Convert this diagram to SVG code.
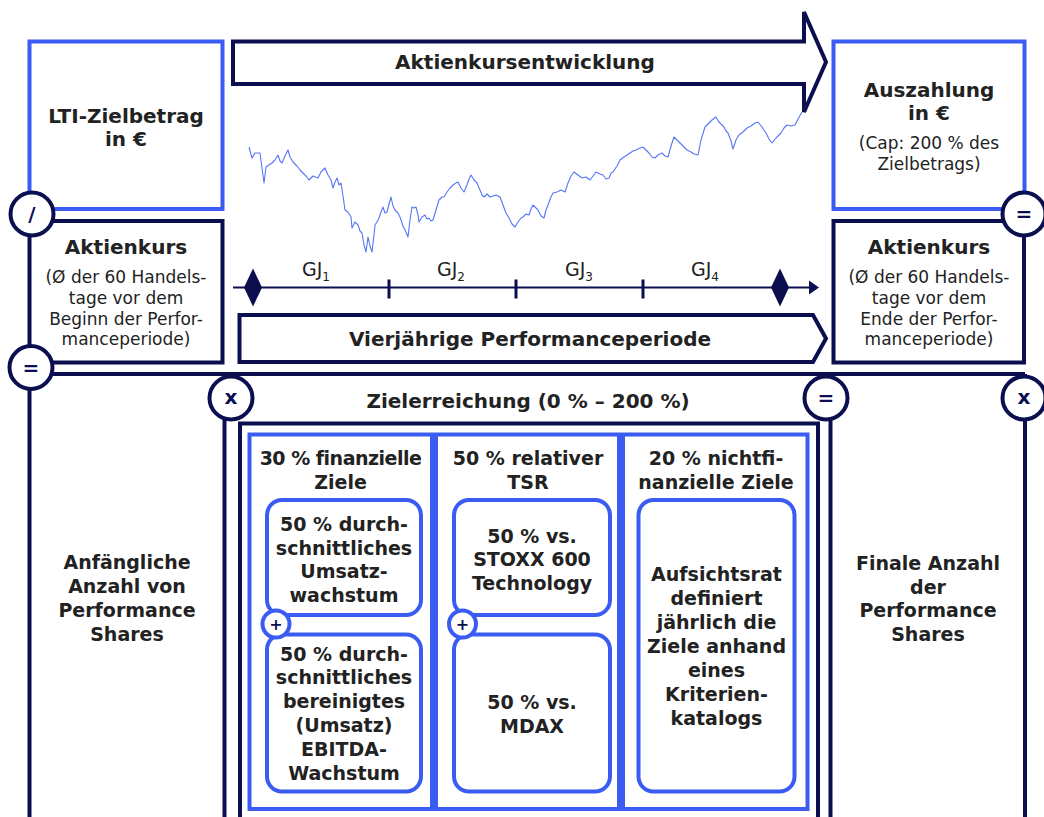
<svg xmlns="http://www.w3.org/2000/svg" width="1044" height="817" viewBox="0 0 1044 817">
<style>
.nv{fill:none;stroke:#0b0f4f;stroke-width:4}
.bl{fill:none;stroke:#3b5cf2;stroke-width:4}
.blr{fill:#fff;stroke:#3b5cf2;stroke-width:4}
.t{font-family:"DejaVu Sans",sans-serif;fill:#222;text-anchor:middle}
.b{font-weight:bold;font-size:20px}
.b19{font-weight:bold;font-size:19px}
.r{font-size:17px}
.circ{fill:#fff;stroke:#0b0f4f;stroke-width:4}
.sym{font-family:"DejaVu Sans",sans-serif;font-weight:bold;font-size:20px;fill:#0b0f4f;text-anchor:middle}
.psym{font-family:"DejaVu Sans",sans-serif;font-weight:bold;font-size:16px;fill:#0b0f4f;text-anchor:middle}
</style>
<rect width="1044" height="817" fill="#fff"/>

<g id="connectors">
  <path class="nv" d="M29.5,374 H1025"/>
  <path class="nv" d="M29.5,367 V817"/>
  <path class="nv" d="M224.5,398 V817"/>
  <path class="nv" d="M240,817 V423.5 H818 V817"/>
  <path class="nv" d="M830.5,398 V817"/>
  <path class="nv" d="M1025,374 V817"/>
</g>

<g id="lti-zielbetrag">
  <rect class="bl" x="29.5" y="41.5" width="193" height="167.5"/>
  <text class="t b" x="126" y="122.5">LTI-Zielbetrag</text>
  <text class="t b" x="126" y="145.5">in €</text>
</g>

<g id="aktienkurs-start">
  <rect class="nv" x="29.5" y="221" width="193" height="141.5"/>
  <text class="t b" x="126" y="254">Aktienkurs</text>
  <text class="t r" x="126" y="283">(Ø der 60 Handels-</text>
  <text class="t r" x="126" y="304">tage vor dem</text>
  <text class="t r" x="126" y="324.5">Beginn der Perfor-</text>
  <text class="t r" x="126" y="345">manceperiode)</text>
</g>

<g id="aktienkursentwicklung">
  <path class="nv" d="M233,41.5 H804 V12 L826,62 L804,112 V84 H233 Z" stroke-linejoin="miter"/>
  <text class="t b" x="525" y="69">Aktienkursentwicklung</text>
</g>

<g id="chart">
  <polyline fill="none" stroke="#5676f5" stroke-width="1.1" stroke-linejoin="round" points="249,147 252,158 255,153 260,153 264,183 266,167 269,165 272,163 275,160 278,155 280,161 282,163 285,156 288,150 290,157 293,162 297,166 300,170 303,173 306,176 309,180 313,176 318,178 321,172 325,168 328,175 331,180 333,188 335,182 337,178 339,185 341,183 343,196 345,210 348,212 351,217 352,228 355,222 358,225 360,231 362,233 364,245 366,252 368,237 370,246 372,252 374,235 375,225 377,222 379,218 381,212 383,207 385,213 387,212 389,204 391,197 393,206 395,210 398,213 400,217 403,226 406,232 408,237 410,220 412,207 414,208 416,207 418,215 419,222 422,217 425,215 427,219 429,218 431,221 433,220 436,210 439,200 442,197 444,197 447,192 450,188 453,185 456,183 458,182 461,188 464,192 467,185 469,179 471,175 474,180 477,183 480,190 482,195 484,197 487,194 490,197 493,196 496,195 500,197 503,205 506,213 509,218 512,224 515,227 518,222 521,218 523,217 526,214 529,215 531,209 533,205 536,208 538,210 541,216 544,218 546,210 548,205 551,197 553,193 557,192 561,190 565,192 568,183 571,176 574,172 578,175 582,178 586,177 590,180 593,176 596,172 600,174 603,175 606,179 609,178 611,173 613,172 617,166 620,160 624,157 627,155 630,153 633,151 636,150 640,148 643,147 646,150 649,153 652,157 655,158 658,155 662,153 665,156 668,157 671,146 674,137 677,140 680,143 684,147 687,150 691,152 694,154 698,155 701,140 705,127 708,124 712,120 716,117 719,122 721,124 724,127 726,131 728,133 731,141 733,149 736,140 739,135 743,132 747,128 751,126 755,123 758,122 762,127 766,133 769,139 772,143 776,138 781,133 784,128 787,125 791,126 795,125 798,119 802,112"/>
</g>

<g id="timeline">
  <line x1="233" y1="287.5" x2="812" y2="287.5" stroke="#0b0f4f" stroke-width="2"/>
  <polygon points="809,280.5 819,287.5 809,294.5" fill="#0b0f4f"/>
  <rect x="387.5" y="279.5" width="3" height="19" fill="#0b0f4f"/>
  <rect x="514.5" y="279.5" width="3" height="19" fill="#0b0f4f"/>
  <rect x="641.5" y="279.5" width="3" height="19" fill="#0b0f4f"/>
  <polygon points="253,268.5 262,287.5 253,306.5 244,287.5" fill="#0b0f4f"/>
  <polygon points="780,268.5 789,287.5 780,306.5 771,287.5" fill="#0b0f4f"/>
  <text class="t" font-size="19" text-anchor="start" x="302" y="276" style="text-anchor:start">GJ<tspan font-size="12" dy="5">1</tspan></text>
  <text class="t" font-size="19" x="437" y="276" style="text-anchor:start">GJ<tspan font-size="12" dy="5">2</tspan></text>
  <text class="t" font-size="19" x="565" y="276" style="text-anchor:start">GJ<tspan font-size="12" dy="5">3</tspan></text>
  <text class="t" font-size="19" x="691" y="276" style="text-anchor:start">GJ<tspan font-size="12" dy="5">4</tspan></text>
</g>

<g id="performanceperiode">
  <path class="nv" d="M239.5,315 H813 L826,338.5 L813,362 H239.5 Z"/>
  <text class="t b" x="530" y="346">Vierjährige Performanceperiode</text>
</g>

<g id="auszahlung">
  <rect class="bl" x="833.5" y="41.5" width="191" height="167.5"/>
  <text class="t b" x="929" y="96.5">Auszahlung</text>
  <text class="t b" x="929" y="120">in €</text>
  <text class="t r" x="929" y="149">(Cap: 200 % des</text>
  <text class="t r" x="929" y="169.5">Zielbetrags)</text>
</g>

<g id="aktienkurs-ende">
  <rect class="nv" x="833.5" y="221" width="190.5" height="141.5"/>
  <text class="t b" x="929" y="254">Aktienkurs</text>
  <text class="t r" x="929" y="283">(Ø der 60 Handels-</text>
  <text class="t r" x="929" y="304">tage vor dem</text>
  <text class="t r" x="929" y="324.5">Ende der Perfor-</text>
  <text class="t r" x="929" y="345">manceperiode)</text>
</g>

<g id="anfaengliche-anzahl">
  <text class="t b19" x="127" y="569">Anfängliche</text>
  <text class="t b19" x="127" y="593">Anzahl von</text>
  <text class="t b19" x="127" y="617">Performance</text>
  <text class="t b19" x="127" y="641">Shares</text>
</g>

<g id="zielerreichung">
  <text class="t b" x="528" y="408">Zielerreichung (0 % – 200 %)</text>
</g>

<g id="finanzielle-ziele">
  <rect class="bl" x="249.5" y="434.5" width="182.5" height="374.5"/>
  <text class="t b19" x="340.5" y="464.5" letter-spacing="-0.5">30 % finanzielle</text>
  <text class="t b19" x="340.5" y="488.5">Ziele</text>
  <rect class="bl" x="267" y="500" width="154" height="115" rx="15"/>
  <text class="t b19" x="344" y="531">50 % durch-</text>
  <text class="t b19" x="344" y="554.5">schnittliches</text>
  <text class="t b19" x="344" y="578">Umsatz-</text>
  <text class="t b19" x="344" y="601.5">wachstum</text>
  <rect class="bl" x="267" y="634.5" width="154" height="157" rx="15"/>
  <text class="t b19" x="344" y="660.5">50 % durch-</text>
  <text class="t b19" x="344" y="684.3">schnittliches</text>
  <text class="t b19" x="344" y="708.1">bereinigtes</text>
  <text class="t b19" x="344" y="731.9">(Umsatz)</text>
  <text class="t b19" x="344" y="755.7">EBITDA-</text>
  <text class="t b19" x="344" y="779.5">Wachstum</text>
  <circle class="blr" cx="276" cy="624" r="13.5"/>
  <text class="psym" x="276" y="629.5">+</text>
</g>

<g id="relativer-tsr">
  <rect class="bl" x="436" y="434.5" width="183" height="374.5"/>
  <text class="t b19" x="528" y="464.5">50 % relativer</text>
  <text class="t b19" x="528" y="488.5">TSR</text>
  <rect class="bl" x="454" y="500" width="156" height="115" rx="15"/>
  <text class="t b19" x="532" y="542.5">50 % vs.</text>
  <text class="t b19" x="532" y="566">STOXX 600</text>
  <text class="t b19" x="532" y="589.5">Technology</text>
  <rect class="bl" x="454" y="634.5" width="156" height="157" rx="15"/>
  <text class="t b19" x="532" y="708.5">50 % vs.</text>
  <text class="t b19" x="532" y="732.5">MDAX</text>
  <circle class="blr" cx="462.5" cy="624" r="13.5"/>
  <text class="psym" x="462.5" y="629.5">+</text>
</g>

<g id="nichtfinanzielle-ziele">
  <rect class="bl" x="623" y="434.5" width="184.5" height="374.5"/>
  <text class="t b19" x="716" y="464.5">20 % nichtfi-</text>
  <text class="t b19" x="716" y="488.5">nanzielle Ziele</text>
  <rect class="bl" x="638.5" y="500" width="156" height="291.5" rx="15"/>
  <text class="t b19" x="716.5" y="581">Aufsichtsrat</text>
  <text class="t b19" x="716.5" y="605">definiert</text>
  <text class="t b19" x="716.5" y="629">jährlich die</text>
  <text class="t b19" x="716.5" y="653">Ziele anhand</text>
  <text class="t b19" x="716.5" y="677">eines</text>
  <text class="t b19" x="716.5" y="701">Kriterien-</text>
  <text class="t b19" x="716.5" y="725">katalogs</text>
</g>

<g id="finale-anzahl">
  <text class="t b19" x="928" y="569.5">Finale Anzahl</text>
  <text class="t b19" x="928" y="593.5">der</text>
  <text class="t b19" x="928" y="617">Performance</text>
  <text class="t b19" x="928" y="641">Shares</text>
</g>

<g id="op-divide">
  <circle class="circ" cx="32" cy="214" r="21.5"/>
  <text class="sym" x="32" y="221">/</text>
</g>
<g id="op-equals-top">
  <circle class="circ" cx="1024" cy="214" r="21.5"/>
  <text class="sym" x="1024" y="221">=</text>
</g>
<g id="op-equals-left">
  <circle class="circ" cx="31" cy="367.5" r="21.5"/>
  <text class="sym" x="31" y="374.5">=</text>
</g>
<g id="op-times-left">
  <circle class="circ" cx="231" cy="398" r="21.5"/>
  <text class="sym" x="231" y="404">x</text>
</g>
<g id="op-equals-mid">
  <circle class="circ" cx="826" cy="398" r="21.5"/>
  <text class="sym" x="826" y="405">=</text>
</g>
<g id="op-times-right">
  <circle class="circ" cx="1024" cy="398" r="21.5"/>
  <text class="sym" x="1024" y="404">x</text>
</g>
</svg>
